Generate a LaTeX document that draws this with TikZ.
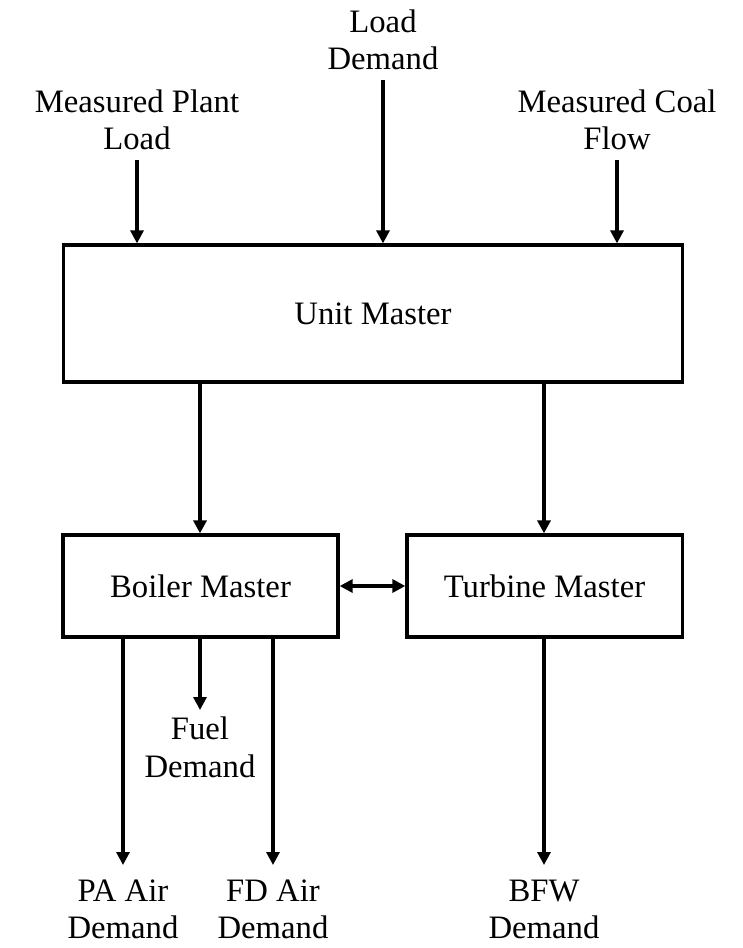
\documentclass[tikz,border=0pt]{standalone}
\usepackage{fontspec}
\setmainfont{Liberation Serif}
\usepackage{tikz}
\usetikzlibrary{arrows.meta,positioning}

\begin{document}
\begin{tikzpicture}[x=0.01cm,y=-0.01cm,font=\fontsize{9.3}{10.6}\selectfont,
  blk/.style={draw=black,line width=0.9pt,minimum width=2.75cm,minimum height=1.02cm,align=center},
  lbl/.style={inner sep=4pt,align=center},
  a/.style={-{Triangle[length=1.3mm,width=1.3mm]},line width=0.9pt},
  aa/.style={{Triangle[length=1.3mm,width=1.3mm]}-{Triangle[length=1.3mm,width=1.3mm]},line width=0.9pt}]
  \useasboundingbox (0,0) rectangle (743,948);
  \node[blk,minimum width=6.18cm,minimum height=1.37cm] (unit) at (373,313.5) {Unit Master};
  \node[blk] (boiler) at (200.5,586) {Boiler Master};
  \node[blk] (turbine) at (544.5,586) {Turbine Master};
  % inputs
  \node[lbl,inner sep=2.6pt,anchor=south] (mpl) at (137,160) {Measured Plant\\Load};
  \node[lbl,inner sep=2.6pt,anchor=south] (ld) at (383,80) {Load\\Demand};
  \node[lbl,inner sep=2.6pt,anchor=south] (mcf) at (617,160) {Measured Coal\\Flow};
  % outputs
  \node[lbl,anchor=north] (pa) at (123,865) {PA Air\\Demand};
  \node[lbl,inner sep=1.8pt,anchor=north] (fuel) at (200,710) {Fuel\\Demand};
  \node[lbl,anchor=north] (fd) at (273,865) {FD Air\\Demand};
  \node[lbl,anchor=north] (bfw) at (544,865) {BFW\\Demand};
  \draw[a] (mpl) -- (mpl |- unit.north);
  \draw[a] (ld) -- (ld |- unit.north);
  \draw[a] (mcf) -- (mcf |- unit.north);
  \draw[a] (unit.south -| fuel) -- (fuel |- boiler.north);
  \draw[a] (unit.south -| bfw) -- (turbine.north -| bfw);
  \draw[aa] (boiler) -- (turbine);
  \draw[a] (boiler.south -| pa) -- (pa);
  \draw[a] (boiler.south -| fuel) -- (fuel);
  \draw[a] (boiler.south -| fd) -- (fd);
  \draw[a] (turbine.south -| bfw) -- (bfw);
\end{tikzpicture}
\end{document}
